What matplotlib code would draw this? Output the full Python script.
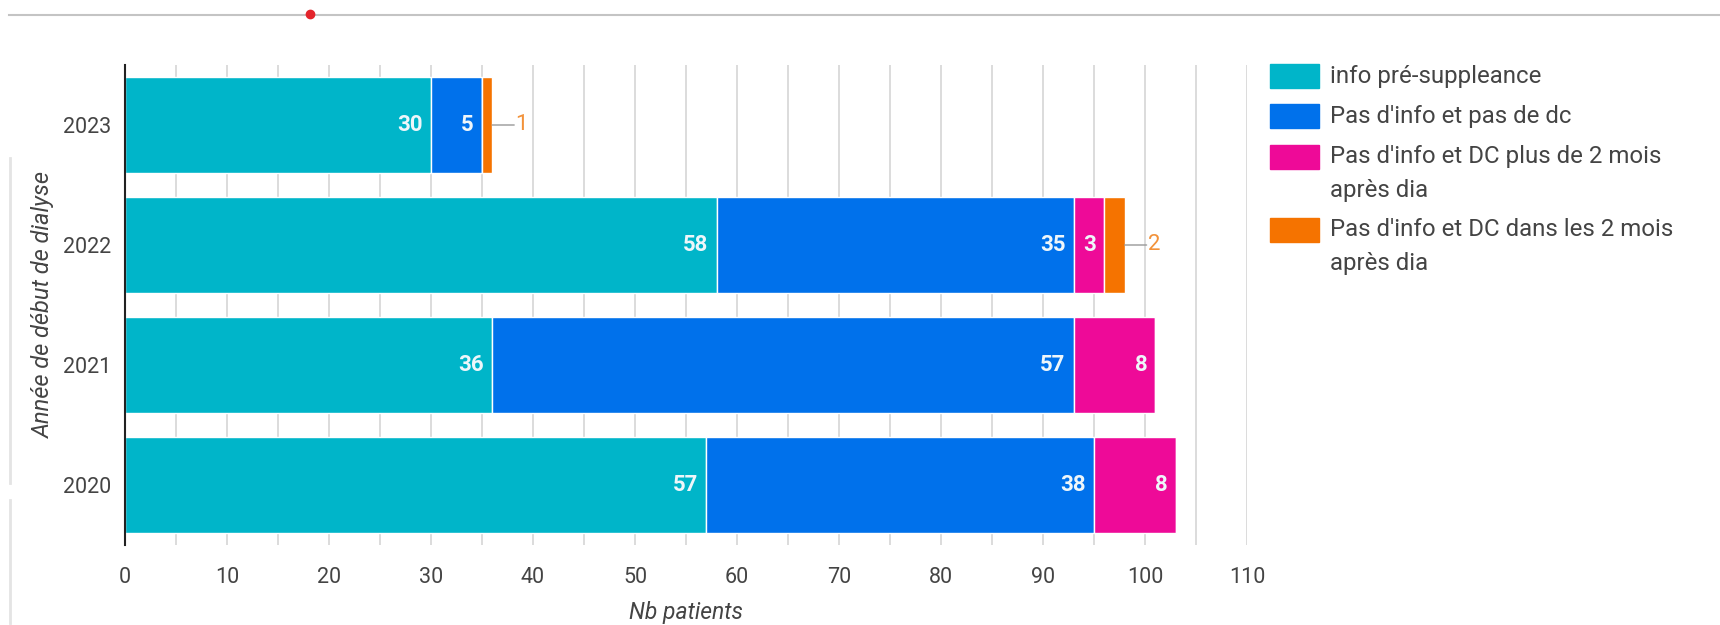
import matplotlib
matplotlib.use('Agg')
import matplotlib.pyplot as plt
import numpy as np
from matplotlib.patches import Rectangle
from matplotlib.lines import Line2D

plt.rcParams['font.family'] = ['Roboto', 'DejaVu Sans']

# data
years = ['2020', '2021', '2022', '2023']
info_pre = [57, 36, 58, 30]
pas_info_pas_dc = [38, 57, 35, 5]
dc_plus_2mois = [8, 8, 3, 0]
dc_dans_2mois = [0, 0, 2, 1]
series_names = ["info pré-suppleance", "Pas d'info et pas de dc",
                "Pas d'info et DC plus de 2 mois\naprès dia",
                "Pas d'info et DC dans les 2 mois\naprès dia"]
colors = ['#00b5c9', '#0071eb', '#ee0a98', '#f57300']

W, H = 1720, 625
fig = plt.figure(figsize=(W / 100, H / 100), dpi=100)

def fx(x):
    return x / W

def fy(y):
    return 1 - y / H

ax = fig.add_axes([fx(125), fy(545), (1247 - 125) / W, (545 - 65) / H])

series = [info_pre, pas_info_pas_dc, dc_plus_2mois, dc_dans_2mois]
ypos = np.arange(len(years))
left = np.zeros(len(years))
for vals, col in zip(series, colors):
    vals = np.array(vals, dtype=float)
    ax.barh(ypos, vals, left=left, height=0.8, color=col, edgecolor='white',
            linewidth=1, zorder=3)
    for i, v in enumerate(vals):
        if v == 0:
            continue
        end = left[i] + v
        if v >= 3:
            ax.annotate('%d' % v, (end, ypos[i]), xytext=(-8, 0),
                        textcoords='offset pixels', ha='right', va='center',
                        color='#eef6fa', fontsize=16, fontweight='bold', zorder=5)
        else:
            ax.annotate('', (end, ypos[i]), xytext=(22, 0),
                        textcoords='offset pixels',
                        arrowprops=dict(arrowstyle='-', color='#999999', lw=1,
                                        shrinkA=0, shrinkB=0), zorder=5)
            ax.annotate('%d' % v, (end, ypos[i]), xytext=(23, 0),
                        textcoords='offset pixels', ha='left', va='center',
                        color='#f2923a', fontsize=16, zorder=5)
    left = left + vals

ax.set_xlim(0, 110)
ax.set_ylim(-0.5, 3.5)
ax.set_xticks(np.arange(0, 111, 10))
ax.set_xticks(np.arange(0, 111, 5), minor=True)
ax.set_yticks(ypos)
ax.set_yticklabels(years)
ax.grid(True, axis='x', which='both', color='#d6d6d6', lw=1.2, zorder=0)
ax.tick_params(axis='both', which='both', length=0, labelsize=15.5,
               labelcolor='#444444')
ax.tick_params(axis='x', pad=16)
ax.tick_params(axis='y', pad=10)
for s in ['top', 'right', 'bottom']:
    ax.spines[s].set_visible(False)
ax.spines['left'].set_color('#222222')
ax.spines['left'].set_linewidth(1.5)
ax.spines['left'].set_zorder(6)
ax.set_xlabel('Nb patients', fontsize=16.5, style='italic', color='#444444',
              labelpad=9)
ax.set_ylabel('Année de début de dialyse', fontsize=17, style='italic',
              color='#444444', labelpad=6)

# legend drawn by hand
leg_centers = [76, 116, 157, 230]
for name, col, cy in zip(series_names, colors, leg_centers):
    fig.patches.append(Rectangle((fx(1270), fy(cy + 12)), 49 / W, 24 / H,
                                 transform=fig.transFigure, color=col))
    for k, line in enumerate(name.split('\n')):
        fig.text(fx(1330), fy(cy + 33 * k), line, fontsize=17.3, color='#444444',
                 ha='left', va='center')

# decorations from the page around the chart
fig.add_artist(Line2D([fx(9), fx(1720)], [fy(15), fy(15)], color='#c4c4c4',
                      lw=1.5, transform=fig.transFigure))
fig.add_artist(Line2D([fx(310)], [fy(14)], marker='o', markersize=6,
                      color='#e3242b', transform=fig.transFigure))
fig.add_artist(Line2D([fx(10), fx(10)], [fy(158), fy(483)], color='#e4e4e4',
                      lw=2, transform=fig.transFigure))
fig.add_artist(Line2D([fx(10), fx(10)], [fy(500), fy(623)], color='#e4e4e4',
                      lw=2, transform=fig.transFigure))

fig.savefig('out.png', dpi=100)
